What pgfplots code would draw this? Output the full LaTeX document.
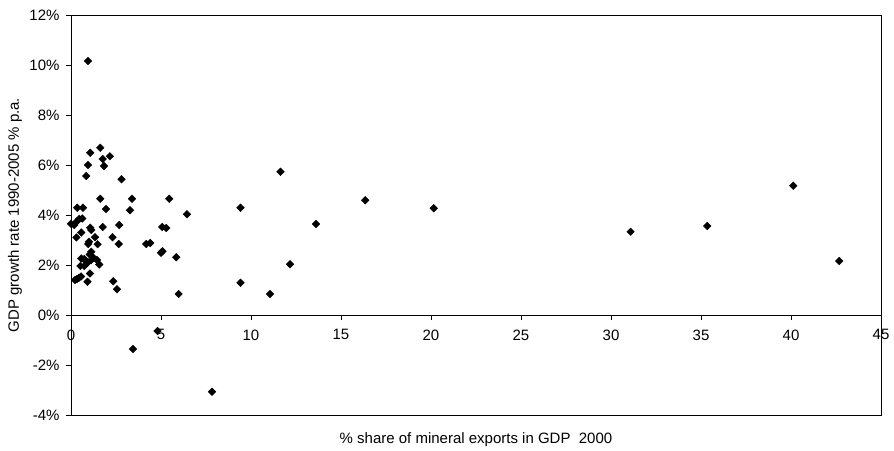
\documentclass[border=0pt]{standalone}
\usepackage{fontspec}
\setmainfont{Liberation Sans}
\usepackage{pgfplots}
\pgfplotsset{compat=1.18}
\begin{document}
\begin{tikzpicture}
\path[use as bounding box] (-71pt,-35pt) rectangle (823pt,415pt);
\begin{axis}[
  at={(0,0)}, anchor=south west,
  scale only axis, width=810pt, height=400pt,
  xmin=0, xmax=45, ymin=-4, ymax=12,
  axis x line=middle, axis y line=left,
  axis line style={-, black, line width=0.8pt},
  xtick={0,5,...,45}, ytick={-4,-2,...,12},
  hide obscured x ticks=false,
  yticklabel={\pgfmathprintnumber{\tick}\%},
  tick align=outside, major tick length=5pt,
  tick style={black, line width=0.8pt},
  font=\fontsize{15}{18}\selectfont,
  /pgf/number format/assume math mode=true,
  xticklabel style={yshift=-6pt},
  yticklabel style={xshift=-3pt},
  xlabel={\% share of mineral exports in GDP\ \ 2000},
  ylabel={GDP growth rate 1990-2005 \% p.a.},
  every axis x label/.style={at={(axis description cs:0.5,-0.0625)}, anchor=center},
  every axis y label/.style={at={(axis description cs:-0.0691,0.5)}, anchor=center, rotate=90},
  clip=false,
]
\draw[black, line width=0.8pt] (rel axis cs:0,0) rectangle (rel axis cs:1,1);
\addplot[only marks, mark=square*, mark size=2.7pt, mark options={rotate=45}, black] coordinates {
(0.94,10.16) (1.63,6.69) (1.07,6.49) (2.16,6.35) (1.76,6.24) (0.94,6.00) (1.83,5.96)
(0.85,5.56) (2.81,5.43) (1.63,4.65) (3.39,4.65) (5.46,4.65) (0.35,4.29) (0.67,4.29)
(1.94,4.24) (3.28,4.19) (6.44,4.03) (0.00,3.65) (0.18,3.60) (0.33,3.75) (0.46,3.84)
(0.63,3.86) (1.07,3.49) (1.13,3.40) (1.76,3.52) (2.68,3.60) (5.07,3.52) (5.29,3.48)
(0.30,3.10) (0.57,3.30) (1.33,3.11) (2.31,3.11) (1.00,2.93) (0.96,2.84) (1.48,2.83)
(2.65,2.84) (4.18,2.84) (4.40,2.88) (1.13,2.53) (1.04,2.42) (0.57,2.26) (0.74,2.24)
(1.26,2.28) (1.44,2.20) (0.83,2.15) (1.12,2.20) (0.52,1.96) (0.74,1.96) (0.90,2.08)
(1.57,2.02) (5.00,2.49) (5.08,2.55) (5.85,2.31) (0.22,1.40) (0.33,1.44) (0.44,1.49)
(0.56,1.54) (1.05,1.66) (0.92,1.33) (2.35,1.35) (2.55,1.03) (5.98,0.84) (4.81,-0.64)
(3.44,-1.36) (7.83,-3.07)
(9.42,4.29) (9.42,1.29) (11.64,5.73) (16.35,4.59) (20.15,4.27) (13.61,3.64)
(12.17,2.03) (11.06,0.84) (31.09,3.33) (35.35,3.56) (40.13,5.17) (42.68,2.16)
};
\end{axis}
\end{tikzpicture}
\end{document}
